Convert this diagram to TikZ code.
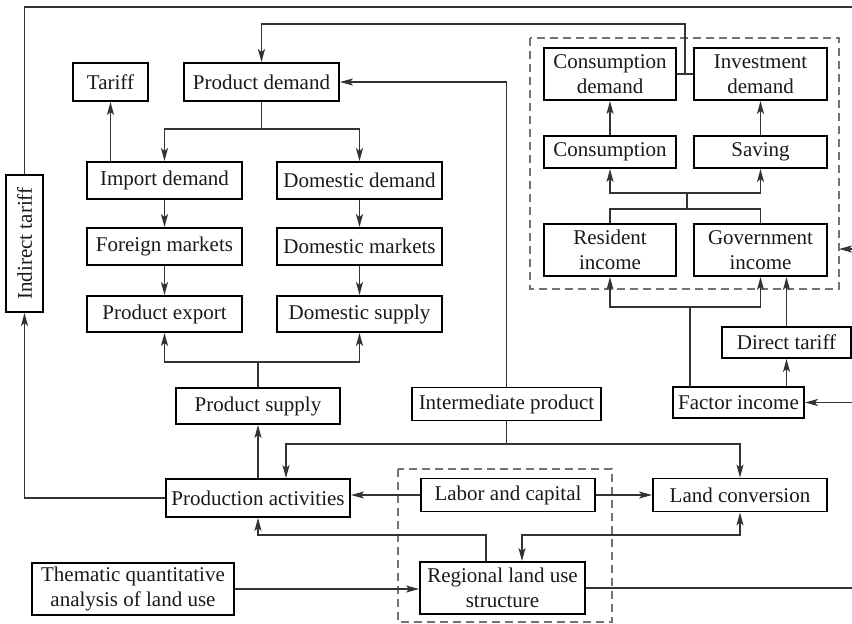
\documentclass[tikz,border=0pt]{standalone}
\usepackage{fontspec}
\setmainfont{Liberation Serif}
\usetikzlibrary{arrows.meta}
\begin{document}
\begin{tikzpicture}[x=1pt,y=-1pt,
  font=\fontsize{21}{24.5}\selectfont,
  box/.style={draw=black,line width=1.9pt,inner sep=0pt,align=center,text=black!90},
  conn/.style={draw=black!80,line width=1.3pt},
  arr/.style={conn,-{Stealth[length=13pt,width=7pt,inset=3pt]}},
  arrboth/.style={conn,{Stealth[length=13pt,width=7pt,inset=3pt]}-{Stealth[length=13pt,width=7pt,inset=3pt]}},
  dashbox/.style={draw=black!55,line width=1.3pt,dash pattern=on 8pt off 5pt}]
\useasboundingbox (0,0) rectangle (852,624);

% dashed groups
\draw[dashbox] (530,38) rectangle (839,289);
\draw[dashbox] (398,469) rectangle (612,622);

% boxes
\node[box,minimum width=75,minimum height=38] (tariff) at (110.5,82) {Tariff};
\node[box,minimum width=155,minimum height=38] (pdem) at (261.5,82) {Product demand};
\node[box,minimum width=155,minimum height=37] (imp) at (164.5,180.5) {Import demand};
\node[box,minimum width=165,minimum height=37] (ddem) at (359.5,180.5) {Domestic demand};
\node[box,minimum width=155,minimum height=37] (fmk) at (164.5,246.5) {Foreign markets};
\node[box,minimum width=165,minimum height=37] (dmk) at (359.5,246.5) {Domestic markets};
\node[box,minimum width=155,minimum height=36] (pexp) at (164.5,314) {Product export};
\node[box,minimum width=165,minimum height=36] (dsup) at (359.5,314) {Domestic supply};
\node[box,minimum width=164,minimum height=36] (psup) at (258,406) {Product supply};
\node[box,minimum width=189,minimum height=33] (inter) at (506.5,404) {Intermediate product};
\node[box,minimum width=184,minimum height=38] (prod) at (258,498) {Production activities};
\node[box,minimum width=174,minimum height=33] (labor) at (508,495) {Labor and capital};
\node[box,minimum width=174,minimum height=33] (land) at (740,495) {Land conversion};
\node[box,minimum width=165,minimum height=52] (region) at (502.5,588) {Regional land use\\structure};
\node[box,minimum width=202,minimum height=52] (them) at (133,589) {Thematic quantitative\\analysis of land use};
\node[box,minimum width=37,minimum height=137] (indtar) at (24.5,243.5) {\rotatebox{90}{Indirect tariff}};
\node[box,minimum width=132,minimum height=52] (cdem) at (610,74) {Consumption\\demand};
\node[box,minimum width=133,minimum height=52] (idem) at (760.5,74) {Investment\\demand};
\node[box,minimum width=132,minimum height=32] (cons) at (610,152) {Consumption};
\node[box,minimum width=133,minimum height=32] (sav) at (760.5,152) {Saving};
\node[box,minimum width=132,minimum height=52] (res) at (610,250) {Resident\\income};
\node[box,minimum width=133,minimum height=52] (gov) at (760.5,250) {Government\\income};
\node[box,minimum width=129,minimum height=31] (dtar) at (786.5,342.5) {Direct tariff};
\node[box,minimum width=131,minimum height=31] (fac) at (738.5,402.5) {Factor income};

% helper coordinates
\coordinate (topL) at (24.5,7);
\coordinate (topR) at (852,7);
\coordinate (j1) at (261.5,129);
\coordinate (j2) at (258,362);
\coordinate (j3) at (506.5,444);
\coordinate (j4) at (685,74);
\coordinate (j4t) at (685,24);
\coordinate (j5) at (687,193);
\coordinate (j6) at (687,209);
\coordinate (j7) at (690,307);
\coordinate (facTop) at (690,387);
\coordinate (rGov) at (852,249);
\coordinate (eGov) at (839,249);
\coordinate (rFac) at (852,402.5);
\coordinate (rReg) at (852,588);

% connectors
\draw[conn] (indtar.north) -- (topL) -- (topR);
\draw[arr] (prod.west) -| (indtar.south);
\draw[arr] (imp.north -| tariff.south) -- (tariff.south);
\draw[conn] (pdem.south) -- (j1);
\draw[arr] (j1) -| (imp.north);
\draw[arr] (j1) -| (ddem.north);
\draw[arr] (imp) -- (fmk);
\draw[arr] (fmk) -- (pexp);
\draw[arr] (ddem) -- (dmk);
\draw[arr] (dmk) -- (dsup);
\draw[conn] (psup.north) -- (j2);
\draw[arr] (j2) -| (pexp.south);
\draw[arr] (j2) -| (dsup.south);
\draw[arr] (prod.north) -- (psup.south);
\draw[conn] (inter.south) -- (j3);
\draw[arr] (j3) -| ([xshift=28pt]prod.north);
\draw[arr] (j3) -| (land.north);
\draw[arr] (inter.north) |- (pdem.east);
\draw[conn] (cdem.east) -- (idem.west);
\draw[arr] (j4) -- (j4t) -| (pdem.north);
\draw[arr] (cons) -- (cdem);
\draw[arr] (sav) -- (idem);
\draw[conn] (j6) -- (j5);
\draw[arr] (j5) -| (cons.south);
\draw[arr] (j5) -| (sav.south);
\draw[conn] (res.north) |- (j6) -| (gov.north);
\draw[conn] (facTop) -- (j7);
\draw[arr] (j7) -| (res.south);
\draw[arr] (j7) -| (gov.south);
\draw[arr] (dtar.north) -- (dtar.north |- gov.south);
\draw[arr] (dtar.south |- fac.north) -- (dtar.south);
\draw[arr] (rGov) -- (eGov);
\draw[arr] (rFac) -- (fac.east);
\draw[arr] (labor.west) -- (labor.west -| prod.east);
\draw[arr] (labor.east) -- (land.west);
\draw[arr] ([xshift=-16.5pt]region.north) -- ++(0,-26) -| (prod.south);
\draw[arrboth] ([xshift=19.5pt]region.north) -- ++(0,-26) -| (land.south);
\draw[arr] (them.east) -- (them.east -| region.west);
\draw[conn] (region.east) -- (rReg);
\end{tikzpicture}
\end{document}
